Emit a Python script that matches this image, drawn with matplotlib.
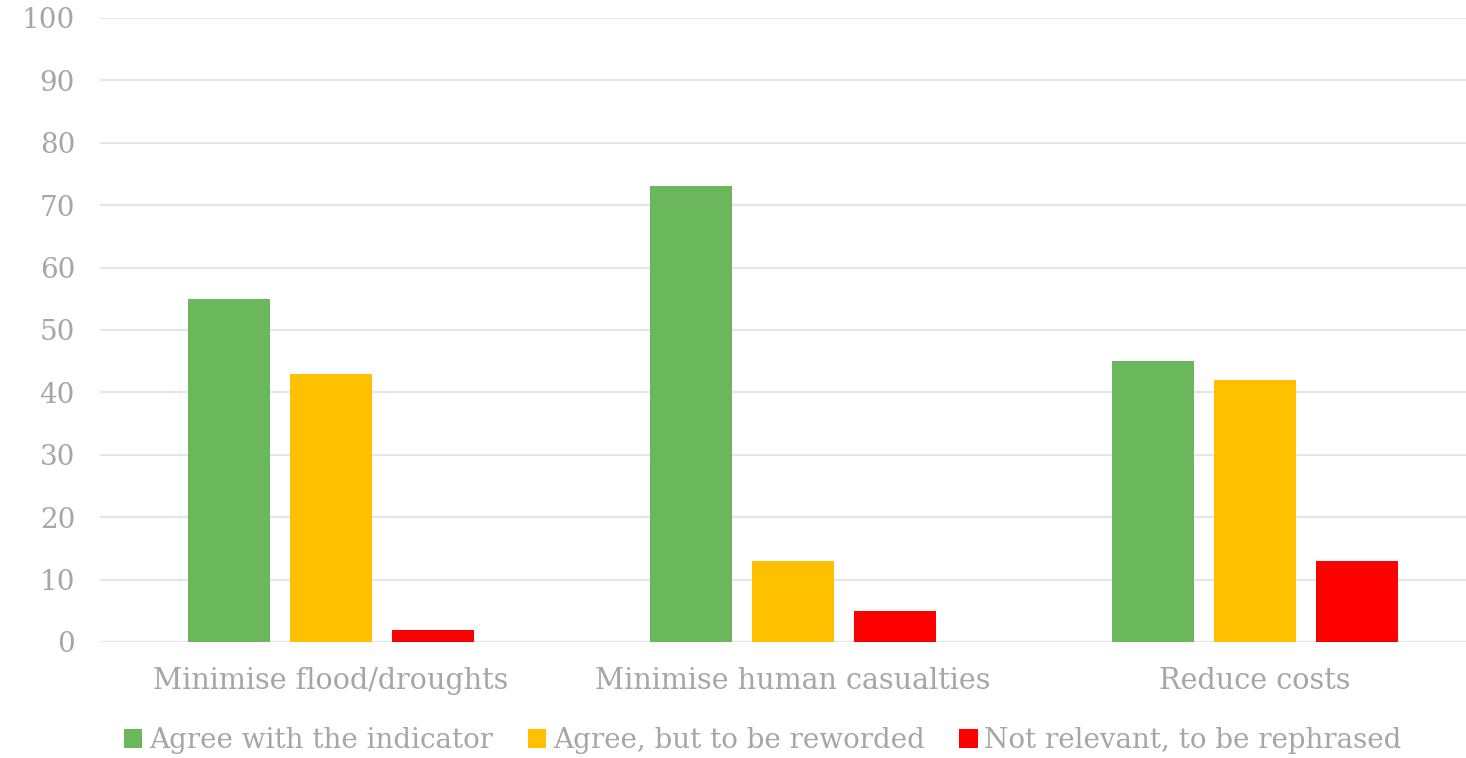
import matplotlib
matplotlib.use("Agg")
import matplotlib.pyplot as plt
import numpy as np

categories = ["Minimise flood/droughts", "Minimise human casualties", "Reduce costs"]
series_names = ["Agree with the indicator", "Agree, but to be reworded", "Not relevant, to be rephrased"]
agree = [55, 73, 45]
agree_reworded = [43, 13, 42]
not_relevant = [2, 5, 13]
colors = ["#6ab75c", "#ffc000", "#ff0000"]
yticks = [0, 10, 20, 30, 40, 50, 60, 70, 80, 90, 100]

plt.rcParams['font.family'] = ['DejaVu Serif']
text_color = "#a6a6a6"
grid_color = "#e6e6e6"

fig = plt.figure(figsize=(14.66, 7.58), dpi=100)
ax = fig.add_axes([100/1466, 116/758, 1386/1466, 624/758])

x = np.arange(len(categories))
width = 0.1775
step = 0.2208
handles = []
for i, (vals, name, c) in enumerate(zip([agree, agree_reworded, not_relevant], series_names, colors)):
    b = ax.bar(x + (i - 1) * step, vals, width, color=c, label=name, zorder=3)
    handles.append(b)

ax.set_xlim(-0.5, len(categories) - 0.5)
ax.set_ylim(0, 100)
ax.set_yticks(yticks)
ax.set_yticklabels([str(v) for v in yticks])
ax.set_xticks(x)
ax.set_xticklabels(categories)
ax.yaxis.grid(True, color=grid_color, linewidth=1.5, zorder=0)
ax.set_axisbelow(True)
for s in ax.spines.values():
    s.set_visible(False)
ax.axhline(0, color=grid_color, linewidth=1.5, zorder=2)
ax.tick_params(axis='both', length=0, colors=text_color)
ax.tick_params(axis='y', pad=18, labelsize=20)
ax.tick_params(axis='x', pad=18, labelsize=20.6)

leg = fig.legend(handles=handles, labels=series_names, loc='center', bbox_to_anchor=(763/1466, 17/758),
                 ncol=3, frameon=False, fontsize=20, handlelength=0.65, handleheight=0.65,
                 handletextpad=0.25, columnspacing=1.25, labelcolor=text_color)

fig.savefig("out.png", dpi=100)
